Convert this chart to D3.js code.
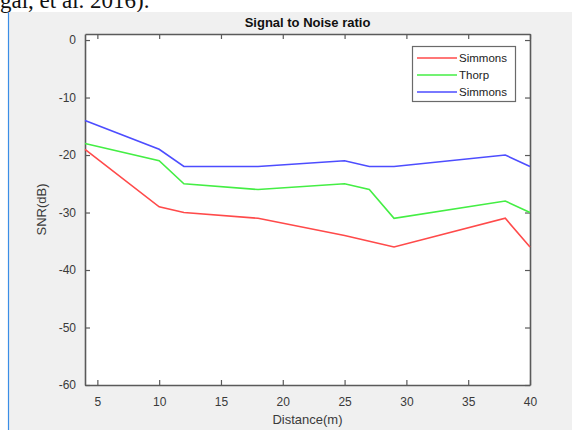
<!DOCTYPE html>
<html lang="en">
<head>
<meta charset="UTF-8">
<title>Signal to Noise ratio</title>
<script src="https://d3js.org/d3.v7.min.js"></script>
<style>
  body { margin: 0; background: #fff; }
  svg { display: block; }
  .tick text { font-family: "Liberation Sans", Arial, sans-serif; font-size: 12px; fill: #3a3a3a; }
</style>
</head>
<body>
<svg width="572" height="430"></svg>
<script>
// data
const distance = [4, 10, 12, 18, 25, 27, 29, 38, 40];
const simmonsA = [-19, -29, -30, -31, -34, -35, -36, -31, -36];
const thorp    = [-18, -21, -25, -26, -25, -26, -31, -28, -30];
const simmonsB = [-14, -19, -22, -22, -21, -22, -22, -20, -22];
const seriesNames = ["Simmons", "Thorp", "Simmons"];
const seriesColors = ["#ff4a4a", "#44ee44", "#4d4dff"];
const xTicks = [5, 10, 15, 20, 25, 30, 35, 40];
const yTicks = [0, -10, -20, -30, -40, -50, -60];

const svg = d3.select("svg");
const W = 572, H = 430;

// surrounding document page + figure frame
svg.append("text")
  .attr("x", 0).attr("y", 8)
  .attr("font-family", "Liberation Serif, Times New Roman, serif")
  .attr("font-size", 23)
  .attr("fill", "#111")
  .text("gal, et al. 2016).");

svg.append("rect")
  .attr("x", 9).attr("y", 12).attr("width", W - 9).attr("height", H - 12)
  .attr("fill", "#f0f0f0");
svg.append("line")
  .attr("x1", 8.5).attr("x2", 8.5).attr("y1", 12).attr("y2", H)
  .attr("stroke", "#3a8ee6").attr("stroke-width", 1.2);

const m = {left: 85, top: 34, right: 530, bottom: 385};

const x = d3.scaleLinear().domain([4, 40]).range([m.left, m.right]);
const y = d3.scaleLinear().domain([-60, 1.05]).range([m.bottom, m.top]);

svg.append("rect")
  .attr("x", m.left).attr("y", m.top)
  .attr("width", m.right - m.left).attr("height", m.bottom - m.top)
  .attr("fill", "#fff");

const axisColor = "#5a5a5a";
const plain = d => String(d);

// bottom axis
const gx = svg.append("g")
  .attr("transform", `translate(0,${m.bottom})`)
  .call(d3.axisBottom(x).tickValues(xTicks).tickFormat(plain).tickSizeInner(-5).tickSizeOuter(0).tickPadding(12));
// left axis
const gy = svg.append("g")
  .attr("transform", `translate(${m.left},0)`)
  .call(d3.axisLeft(y).tickValues(yTicks).tickFormat(plain).tickSizeInner(-5).tickSizeOuter(0).tickPadding(9));
// top & right (box, ticks only)
const gt = svg.append("g")
  .attr("transform", `translate(0,${m.top})`)
  .call(d3.axisTop(x).tickValues(xTicks).tickSizeInner(-5).tickSizeOuter(0).tickFormat(""));
const gr = svg.append("g")
  .attr("transform", `translate(${m.right},0)`)
  .call(d3.axisRight(y).tickValues(yTicks).tickSizeInner(-5).tickSizeOuter(0).tickFormat(""));

[gx, gy, gt, gr].forEach(g => {
  g.select(".domain").attr("stroke", axisColor).attr("stroke-width", 1.6);
  g.selectAll(".tick line").attr("stroke", axisColor).attr("stroke-width", 1.2);
});

// series lines
const line = d3.line()
  .x((d, i) => x(distance[i]))
  .y(d => y(d));

[simmonsA, thorp, simmonsB].forEach((vals, k) => {
  svg.append("path")
    .datum(vals)
    .attr("fill", "none")
    .attr("stroke", seriesColors[k])
    .attr("stroke-width", 1.6)
    .attr("d", line);
});

// title and axis labels
svg.append("text")
  .attr("x", (m.left + m.right) / 2).attr("y", 27)
  .attr("text-anchor", "middle")
  .attr("font-family", "Liberation Sans, Arial, sans-serif")
  .attr("font-size", 13).attr("font-weight", "bold")
  .attr("fill", "#111")
  .text("Signal to Noise ratio");

svg.append("text")
  .attr("x", (m.left + m.right) / 2).attr("y", 424)
  .attr("text-anchor", "middle")
  .attr("font-family", "Liberation Sans, Arial, sans-serif")
  .attr("font-size", 13)
  .attr("fill", "#3a3a3a")
  .text("Distance(m)");

svg.append("text")
  .attr("transform", `translate(46,${(m.top + m.bottom) / 2}) rotate(-90)`)
  .attr("text-anchor", "middle")
  .attr("font-family", "Liberation Sans, Arial, sans-serif")
  .attr("font-size", 13)
  .attr("fill", "#3a3a3a")
  .text("SNR(dB)");

// legend
const lg = svg.append("g").attr("transform", "translate(412,46)");
lg.append("rect")
  .attr("x", 0.5).attr("y", 0.5).attr("width", 103).attr("height", 55)
  .attr("fill", "#fff").attr("stroke", "#6a6a6a").attr("stroke-width", 1.2);
seriesNames.forEach((name, k) => {
  const yy = 12 + k * 17;
  lg.append("line")
    .attr("x1", 5).attr("x2", 45).attr("y1", yy).attr("y2", yy)
    .attr("stroke", seriesColors[k]).attr("stroke-width", 1.6);
  lg.append("text")
    .attr("x", 47).attr("y", yy + 4)
    .attr("font-family", "Liberation Sans, Arial, sans-serif")
    .attr("font-size", 11.5)
    .attr("fill", "#222")
    .text(name);
});
</script>
</body>
</html>
